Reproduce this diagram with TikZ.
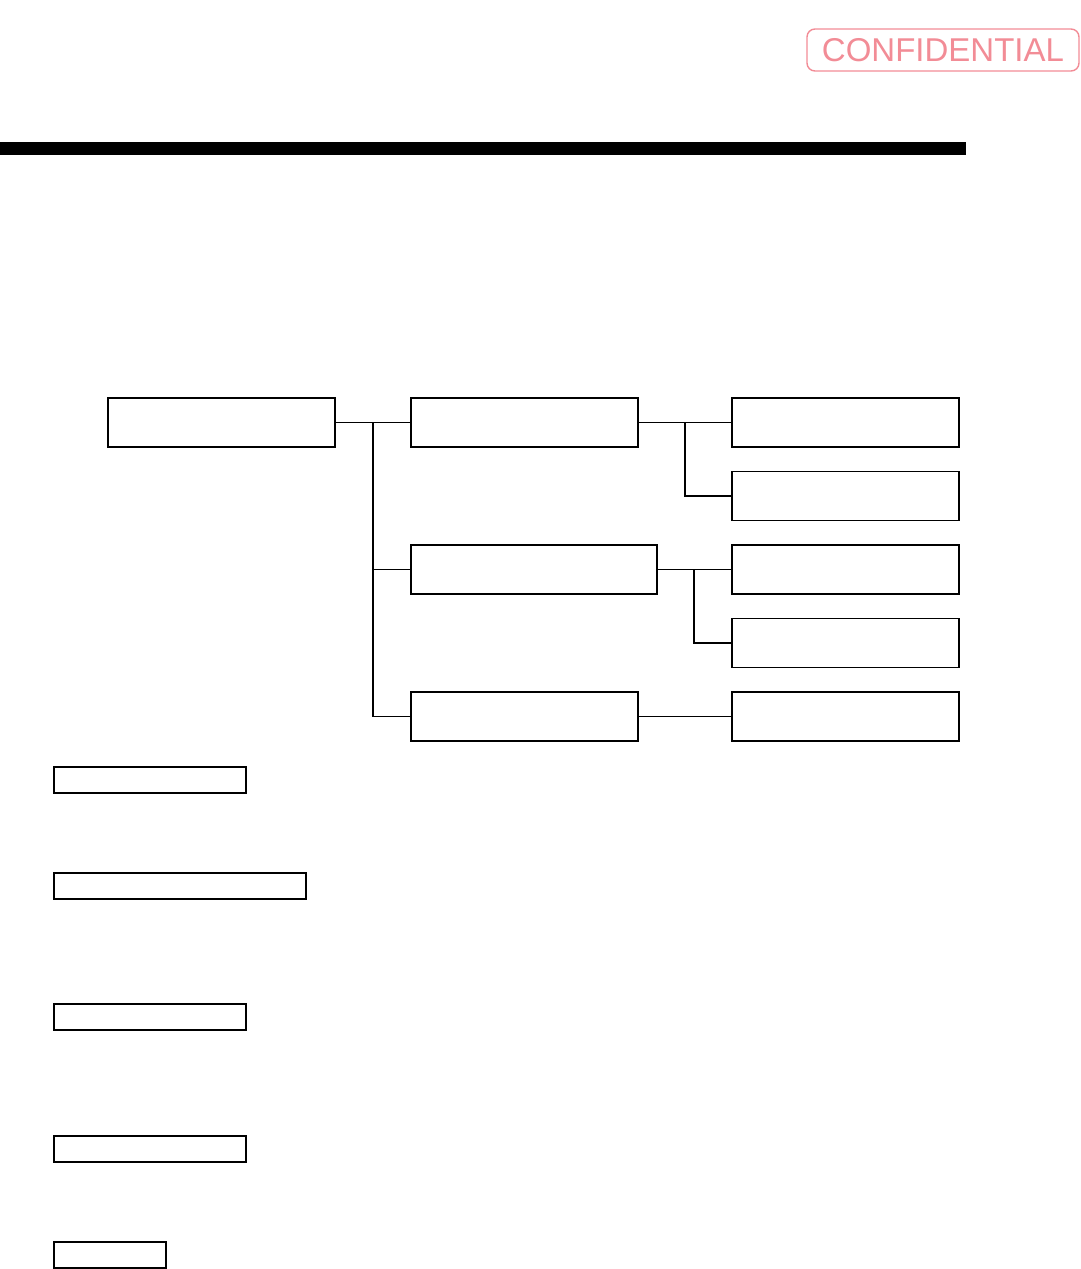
\documentclass[tikz,border=0pt]{standalone}
\usepackage{fontspec}
\newfontfamily\stampfont{Liberation Sans}
\definecolor{stamppink}{RGB}{242,140,150}
\begin{document}
\begin{tikzpicture}[x=1pt,y=-1pt,
  box/.style={draw=black,line width=1.5pt,fill=white,inner sep=0pt},
  bigbox/.style={box,minimum width=227pt,minimum height=49pt},
  legbox/.style={box,line width=1.2pt,minimum height=26pt},
  link/.style={draw=black,line width=1.6pt}]
\useasboundingbox (0,0) rectangle (1080,1269);
% stamp
\node[draw=stamppink,line width=1.4pt,rounded corners=8pt,minimum width=272pt,minimum height=42pt,inner sep=0pt,
  text=stamppink,font=\stampfont\fontsize{33}{33}\selectfont] (stamp) at (943,50) {CONFIDENTIAL};
% bar
\fill[black] (0,142) rectangle (966,155);
% tree boxes
\node[bigbox] (root) at (221.5,422.5) {};
\node[bigbox] (m1) at (524.5,422.5) {};
\node[box,minimum width=246pt,minimum height=49pt] (m2) at (534,569.5) {};
\node[bigbox] (m3) at (524.5,716.5) {};
\node[bigbox] (r1) at (845.5,422.5) {};
\node[bigbox] (r2) at (845.5,496) {};
\node[bigbox] (r3) at (845.5,569.5) {};
\node[bigbox] (r4) at (845.5,643) {};
\node[bigbox] (r5) at (845.5,716.5) {};
% connectors
\coordinate (j0) at (373,422.5);
\coordinate (j1) at (685,422.5);
\coordinate (j2) at (694,569.5);
\draw[link] (root.east) -- (m1.west);
\draw[link] (j0) |- (m2.west);
\draw[link] (j0) |- (m3.west);
\draw[link] (m1.east) -- (r1.west);
\draw[link] (j1) |- (r2.west);
\draw[link] (m2.east) -- (r3.west);
\draw[link] (j2) |- (r4.west);
\draw[link] (m3.east) -- (r5.west);
% legend boxes
\node[legbox,minimum width=192pt] (l1) at (150,780) {};
\node[legbox,minimum width=252pt] (l2) at (180,886) {};
\node[legbox,minimum width=192pt] (l3) at (150,1017) {};
\node[legbox,minimum width=192pt] (l4) at (150,1149) {};
\node[legbox,minimum width=112pt] (l5) at (110,1255) {};
\end{tikzpicture}
\end{document}
